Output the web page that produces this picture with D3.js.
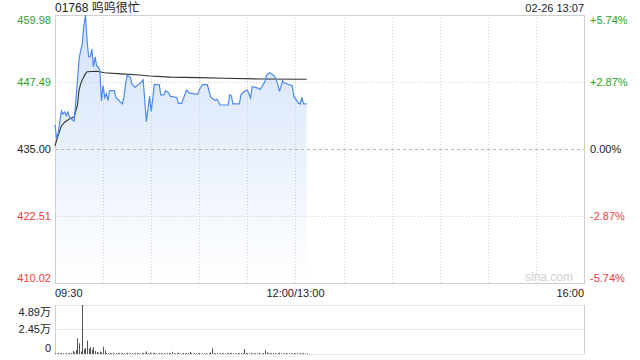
<!DOCTYPE html>
<html lang="zh">
  <head>
    <meta charset="UTF-8" />
    <title>01768 呜呜很忙</title>
    <style>
      body { margin: 0; background: #fff; }
      svg { display: block; font-family: "Liberation Sans", Arial, "Noto Sans CJK SC", sans-serif; }
    </style>
  </head>
  <body>
    <div id="chart"></div>
    <script src="https://cdn.jsdelivr.net/npm/d3@7"></script>
    <script>
      // price ticks (left) and change ticks (right)
      var priceTicks = [459.98, 447.49, 435.00, 422.51, 410.02];
      var pctTicks = ["+5.74%", "+2.87%", "0.00%", "-2.87%", "-5.74%"];
      var timeTicks = ["09:30", "12:00/13:00", "16:00"];
      var volTicks = [4.89, 2.45, 0];
      var volTickLabels = ["4.89万", "2.45万", "0"];

      // intraday price
      var priceTimes = ["09:30","09:31","09:32","09:33","09:34","09:35","09:36","09:37","09:38","09:39",
        "09:41","09:42","09:43","09:44","09:45","09:46","09:47","09:48","09:49","09:50",
        "09:51","09:52","09:53","09:54","09:55","09:56","09:57","09:58","09:59","10:00",
        "10:01","10:02","10:03","10:04","10:07","10:08","10:10","10:12","10:13","10:14",
        "10:15","10:17","10:18","10:20","10:21","10:23","10:25","10:27","10:29","10:30",
        "10:32","10:35","10:36","10:38","10:39","10:41","10:42","10:46","10:47","10:49",
        "10:52","10:54","10:59","11:00","11:02","11:05","11:07","11:08","11:10","11:11",
        "11:13","11:18","11:19","11:20","11:21","11:25","11:26","11:28","11:30","11:32",
        "11:33","11:35","11:37","11:38","11:39","11:41","11:42","11:44","11:46","11:47",
        "11:49","11:50","11:52","11:53","11:56","11:58","11:59","13:02","13:03","13:04",
        "13:05","13:07"];
      var prices = [439.5,437.0,438.0,440.0,442.1,441.5,441.9,441.2,441.9,441.0,
        440.4,440.2,444.0,447.7,451.8,453.3,454.6,458.0,459.98,455.2,
        452.2,452.2,453.6,450.3,452.2,450.5,450.3,449.6,444.0,446.8,
        444.6,445.3,444.0,445.9,445.9,444.6,444.0,443.4,444.6,447.1,
        448.7,448.4,447.1,446.5,446.8,447.2,447.9,440.1,444.8,442.0,
        447.0,447.0,445.1,445.1,445.9,445.4,444.8,444.6,443.5,443.5,
        446.0,445.4,445.2,446.0,447.0,447.0,444.8,444.4,444.1,444.3,
        443.2,443.2,445.1,444.9,443.4,443.4,445.1,445.7,446.0,444.5,
        446.6,446.5,446.3,446.1,446.6,447.6,448.8,449.2,448.8,448.6,
        447.1,445.7,447.7,447.3,447.0,446.8,444.8,443.5,443.4,444.6,
        443.4,443.4];

      // average price line
      var avgTimes = ["09:30","09:32","09:34","09:36","09:39","09:42","09:44","09:45","09:46","09:47",
        "09:49","09:50","09:56","10:01","10:11","10:23","10:29","10:42","11:00","11:15",
        "11:38","13:07"];
      var avgPrices = [435.6,437.6,439.3,440.0,440.6,441.0,443.2,446.0,447.1,447.9,
        449.0,449.4,449.5,449.2,449.0,448.8,448.6,448.4,448.3,448.2,
        448.05,448.0];

      // volume per minute from 09:30 (万)
      var volumes = [0.08,0.05,0.12,0.06,0.1,0.07,0.05,0.09,0.06,0.11,0.08,0.3,0.15,
        0.4,1.57,1.07,0.25,4.89,0.47,0.6,1.33,0.55,0.67,0.45,0.67,0.3,0.2,0.12,0.25,0.15,0.73,0.35,0.1,
        0.08,0.12,0.06,0.1,0.05,0.09,0.12,0.07,0.06,0.1,0.08,0.05,0.11,0.07,0.06,0.09,0.05,0.08,0.1,0.06,0.07,0.12,0.08,0.1,
        0.25,0.1,0.15,
        0.06,0.09,0.12,0.07,0.05,0.08,0.1,0.06,0.09,0.05,0.07,0.11,0.08,
        0.22,0.08,0.06,0.1,0.12,0.05,0.07,0.09,0.06,0.1,0.08,0.2,
        0.07,0.05,0.08,0.06,0.09,0.1,0.05,0.07,0.06,0.08,0.05,0.09,
        0.15,0.57,0.1,
        0.06,0.08,0.05,0.09,0.07,0.06,0.05,0.08,0.1,0.12,0.07,0.09,0.06,0.05,0.08,0.07,0.1,0.06,
        0.5,0.12,0.08,
        0.06,0.09,0.07,0.05,0.08,0.06,0.1,0.07,0.05,0.09,
        0.37,0.15,0.08,
        0.06,0.09,0.1,0.07,0.05,0.08,0.12,0.06,0.07,0.05,0.09,0.06,0.08,0.05,0.07,0.1,0.06,0.08,0.05,0.07,0.06,0.09,0.05,0.07];

      var W = 640, H = 360;
      var pLeft = 55, pRight = 584;
      var pTop = 15, pBottom = 283;
      var vTop = 305, vBottom = 354;
      var green = "#2aa12a", red = "#ee3b3b", grid = "#cfcfcf";

      // minutes of trading since 09:30, lunch break removed
      function toMin(t) {
        var p = t.split(":"), m = +p[0] * 60 + +p[1];
        if (m <= 720) return m - 570;
        return m - 780 + 150;
      }

      var xScale = d3.scaleLinear().domain([0, 330]).range([pLeft, pRight]);
      var yScale = d3.scaleLinear().domain([410.02, 459.98]).range([pBottom, pTop]);
      var vScale = d3.scaleLinear().domain([0, 4.89]).range([vBottom, vTop]);

      var priceData = priceTimes.map(function(t, i) { return { m: toMin(t), v: prices[i] }; });
      var avgData = avgTimes.map(function(t, i) { return { m: toMin(t), v: avgPrices[i] }; });

      var svg = d3.select("#chart").append("svg")
        .attr("width", W)
        .attr("height", H);

      var defs = svg.append("defs");
      var grad = defs.append("linearGradient")
        .attr("id", "fillGrad")
        .attr("gradientUnits", "userSpaceOnUse")
        .attr("x1", 0).attr("y1", pTop)
        .attr("x2", 0).attr("y2", pBottom);
      grad.append("stop").attr("offset", "0%").attr("stop-color", "#d3e2fa");
      grad.append("stop").attr("offset", "100%").attr("stop-color", "#ffffff");

//area under price
      var area = d3.area()
        .x(function(d) { return xScale(d.m); })
        .y0(pBottom)
        .y1(function(d) { return yScale(d.v); });
      svg.append("path")
        .datum(priceData)
        .attr("fill", "url(#fillGrad)")
        .attr("d", area);

//grid
      var vTicks = d3.range(1, 11);
      svg.selectAll(".vgrid")
        .data(vTicks)
        .enter()
        .append("line")
        .attr("class", "vgrid")
        .attr("x1", function(d) { return Math.round(xScale(d * 30)) + 0.5; })
        .attr("x2", function(d) { return Math.round(xScale(d * 30)) + 0.5; })
        .attr("y1", pTop)
        .attr("y2", pBottom)
        .attr("stroke", grid)
        .attr("stroke-dasharray", "1,2");

      svg.selectAll(".hgrid")
        .data([priceTicks[1], priceTicks[3]])
        .enter()
        .append("line")
        .attr("class", "hgrid")
        .attr("x1", pLeft)
        .attr("x2", pRight)
        .attr("y1", function(d) { return Math.round(yScale(d)) + 0.5; })
        .attr("y2", function(d) { return Math.round(yScale(d)) + 0.5; })
        .attr("stroke", grid)
        .attr("stroke-dasharray", "1,2");

      svg.append("line")
        .attr("x1", pLeft)
        .attr("x2", pRight)
        .attr("y1", Math.round(yScale(435)) + 0.5)
        .attr("y2", Math.round(yScale(435)) + 0.5)
        .attr("stroke", "#b5b5b5")
        .attr("stroke-dasharray", "3,3");

      svg.append("rect")
        .attr("x", pLeft + 0.5)
        .attr("y", pTop + 0.5)
        .attr("width", pRight - pLeft)
        .attr("height", pBottom - pTop)
        .attr("fill", "none")
        .attr("stroke", grid);

//lines
      var line = d3.line()
        .x(function(d) { return xScale(d.m); })
        .y(function(d) { return yScale(d.v); });
      svg.append("path")
        .datum(avgData)
        .attr("fill", "none")
        .attr("stroke", "#333")
        .attr("stroke-width", 1.1)
        .attr("d", line);
      svg.append("path")
        .datum(priceData)
        .attr("fill", "none")
        .attr("stroke", "#4d8aee")
        .attr("stroke-width", 1.2)
        .attr("d", line);

//axis labels
      svg.selectAll(".plabel")
        .data(priceTicks)
        .enter()
        .append("text")
        .attr("class", "plabel")
        .attr("x", pLeft - 4)
        .attr("y", function(d, i) {
          if (i == 0) return pTop + 9;
          if (i == priceTicks.length - 1) return pBottom - 1;
          return yScale(d) + 4;
        })
        .attr("text-anchor", "end")
        .attr("font-size", 11)
        .attr("fill", function(d) { return d > 435 ? green : d < 435 ? red : "#222"; })
        .text(function(d) { return d.toFixed(2); });

      svg.selectAll(".pctlabel")
        .data(pctTicks)
        .enter()
        .append("text")
        .attr("class", "pctlabel")
        .attr("x", pRight + 6)
        .attr("y", function(d, i) {
          if (i == 0) return pTop + 9;
          if (i == pctTicks.length - 1) return pBottom - 1;
          return yScale(priceTicks[i]) + 4;
        })
        .attr("font-size", 11)
        .attr("fill", function(d, i) { return i < 2 ? green : i > 2 ? red : "#222"; })
        .text(function(d) { return d; });

      svg.selectAll(".tlabel")
        .data(timeTicks)
        .enter()
        .append("text")
        .attr("class", "tlabel")
        .attr("x", function(d, i) { return [pLeft, xScale(150), pRight][i]; })
        .attr("y", 297)
        .attr("text-anchor", function(d, i) { return ["start", "middle", "end"][i]; })
        .attr("font-size", 11)
        .attr("fill", "#222")
        .text(function(d) { return d; });

      svg.append("text")
        .attr("x", pLeft)
        .attr("y", 12)
        .attr("font-size", 12)
        .attr("fill", "#222")
        .text("01768 呜呜很忙");
      svg.append("text")
        .attr("x", pRight)
        .attr("y", 12)
        .attr("text-anchor", "end")
        .attr("font-size", 11)
        .attr("fill", "#222")
        .text("02-26 13:07");
      svg.append("text")
        .attr("x", 573)
        .attr("y", 281)
        .attr("text-anchor", "end")
        .attr("font-size", 12)
        .attr("fill", "#d0d0d0")
        .text("sina.com");

//volume
      svg.selectAll(".vline")
        .data(volTicks)
        .enter()
        .append("line")
        .attr("class", "vline")
        .attr("x1", pLeft)
        .attr("x2", pRight)
        .attr("y1", function(d) { return Math.round(vScale(d)) + 0.5; })
        .attr("y2", function(d) { return Math.round(vScale(d)) + 0.5; })
        .attr("stroke", grid)
        .attr("stroke-dasharray", "1,1");
      svg.append("line")
        .attr("x1", pLeft + 0.5).attr("x2", pLeft + 0.5)
        .attr("y1", vTop).attr("y2", vBottom)
        .attr("stroke", grid);
      svg.append("line")
        .attr("x1", pRight + 0.5).attr("x2", pRight + 0.5)
        .attr("y1", vTop).attr("y2", vBottom)
        .attr("stroke", grid);

      svg.selectAll(".vbar")
        .data(volumes)
        .enter()
        .append("rect")
        .attr("class", "vbar")
        .attr("x", function(d, i) { return Math.round(xScale(i)); })
        .attr("y", function(d) { return vScale(d); })
        .attr("width", 1)
        .attr("height", function(d) { return vBottom - vScale(d); })
        .attr("fill", "#555");

      svg.selectAll(".vlabel")
        .data(volTickLabels)
        .enter()
        .append("text")
        .attr("class", "vlabel")
        .attr("x", pLeft - 4)
        .attr("y", function(d, i) { return [316, 333, 352][i]; })
        .attr("text-anchor", "end")
        .attr("font-size", 11)
        .attr("fill", "#222")
        .text(function(d) { return d; });
    </script>
  </body>
</html>
